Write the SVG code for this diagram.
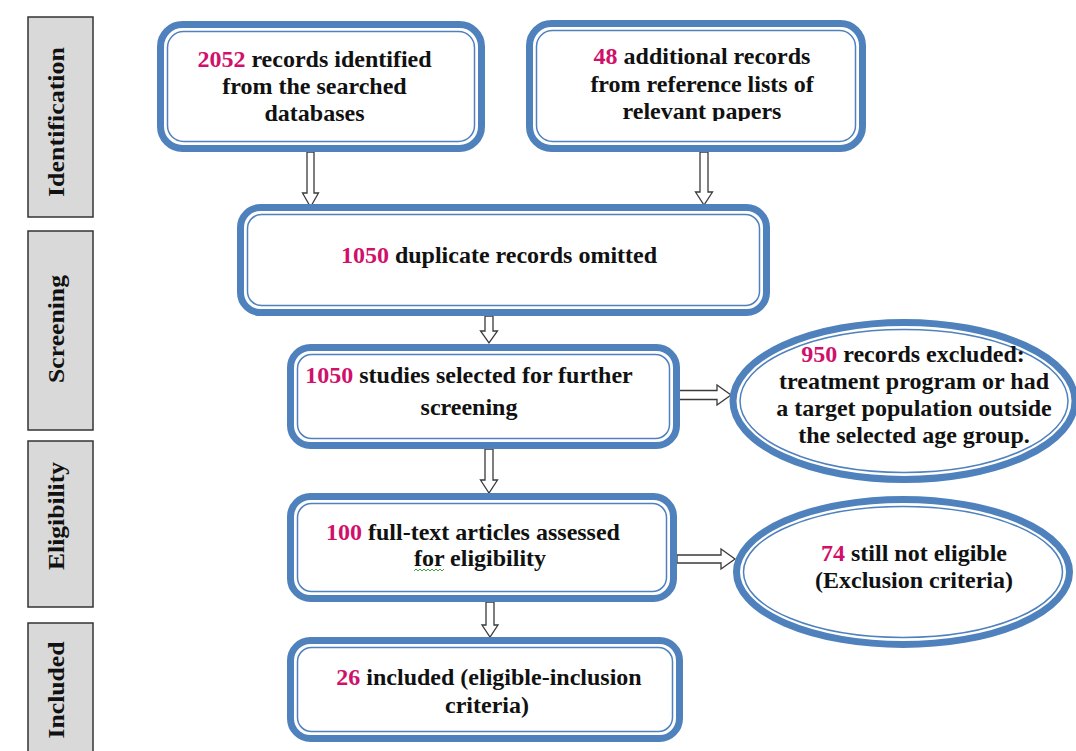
<svg xmlns="http://www.w3.org/2000/svg" width="1076" height="751" viewBox="0 0 1076 751" font-family="Liberation Serif, Tinos, Times New Roman, DejaVu Serif, serif">
<defs>
<style>
.thick{fill:#fff;stroke:#4F81BD;stroke-width:7}
.thin{fill:none;stroke:#4F81BD;stroke-width:1.5}
.side{fill:#D9D9D9;stroke:#333;stroke-width:1.5}
.t{font-family:'Liberation Serif',Tinos,'Times New Roman','DejaVu Serif',serif;font-weight:700;font-size:24px;fill:#111;text-anchor:middle}
.s{font-family:'Liberation Serif',Tinos,'Times New Roman','DejaVu Serif',serif;font-weight:700;font-size:23px;fill:#111;text-anchor:middle}
.n{fill:#D0106A}
.arr{fill:#fff;stroke:#3a3a3a;stroke-width:1.3;stroke-linejoin:miter}
</style>
<clipPath id="clip2"><rect x="526" y="20" width="340" height="101"/></clipPath>
</defs>
<rect width="1076" height="751" fill="#fff"/>

<g id="stage-identification">
<rect class="side" x="28" y="17" width="65" height="200"/>
<text class="s" transform="translate(64,122) rotate(-90)" textLength="150" lengthAdjust="spacingAndGlyphs">Identification</text>
</g>
<g id="stage-screening">
<rect class="side" x="28" y="231" width="65" height="199"/>
<text class="s" transform="translate(64,329) rotate(-90)" textLength="108" lengthAdjust="spacingAndGlyphs">Screening</text>
</g>
<g id="stage-eligibility">
<rect class="side" x="28" y="441" width="65" height="166"/>
<text class="s" transform="translate(64,516) rotate(-90)" textLength="108" lengthAdjust="spacingAndGlyphs">Eligibility</text>
</g>
<g id="stage-included">
<rect class="side" x="28" y="623" width="65" height="140"/>
<text class="s" transform="translate(64,690) rotate(-90)" textLength="97" lengthAdjust="spacingAndGlyphs">Included</text>
</g>

<g id="connectors">
<path class="arr" d="M307,152 H314 V193 H318.5 L310.5,207 L302.5,193 H307 Z"/>
<path class="arr" d="M700,152 H708 V192 H712.5 L704,205 L695.5,192 H700 Z"/>
<path class="arr" d="M485,316 H493 V331 H497.5 L489,343 L480.5,331 H485 Z"/>
<path class="arr" d="M485,449 H493 V480 H497.5 L489,493 L480.5,480 H485 Z"/>
<path class="arr" d="M486,602 H494 V625 H498 L490,637 L482,625 H486 Z"/>
<path class="arr" d="M679,390.5 V399.5 H717 V405 L731,395 L717,385 V390.5 Z"/>
<path class="arr" d="M677,555 V563 H721 V569 L735,559 L721,549 V555 Z"/>
</g>

<g id="node-records-db">
<rect class="thick" x="160.5" y="24.5" width="321" height="124" rx="22"/>
<rect class="thin" x="167.5" y="31.5" width="307" height="110" rx="16"/>
<text class="t" x="314.5" y="67"><tspan class="n">2052</tspan> records identified</text>
<text class="t" x="314.5" y="94">from the searched</text>
<text class="t" x="314.5" y="121">databases</text>
</g>

<g id="node-records-ref">
<rect class="thick" x="529.5" y="23.5" width="333" height="125" rx="22"/>
<rect class="thin" x="536.5" y="30.5" width="319" height="111" rx="16"/>
<text class="t" x="702" y="64"><tspan class="n">48</tspan> additional records</text>
<text class="t" x="702" y="92">from reference lists of</text>
<text class="t" x="702" y="119" clip-path="url(#clip2)">relevant papers</text>
</g>

<g id="node-duplicates">
<rect class="thick" x="240.5" y="207.5" width="526" height="105" rx="20"/>
<rect class="thin" x="247.5" y="214.5" width="512" height="91" rx="14"/>
<text class="t" x="499" y="263"><tspan class="n">1050</tspan> duplicate records omitted</text>
</g>

<g id="node-screened">
<rect class="thick" x="290.5" y="347.5" width="386" height="98" rx="20"/>
<rect class="thin" x="297.5" y="354.5" width="372" height="84" rx="14"/>
<text class="t" x="469" y="383"><tspan class="n">1050</tspan> studies selected for further</text>
<text class="t" x="469" y="415">screening</text>
</g>

<g id="node-excluded-950">
<ellipse class="thick" cx="904" cy="401" rx="171" ry="78.5"/>
<ellipse class="thin" cx="904" cy="401" rx="164" ry="71.5"/>
<text class="t" x="913" y="362"><tspan class="n">950</tspan> records excluded:</text>
<text class="t" x="914" y="389">treatment program or had</text>
<text class="t" x="914" y="416">a target population outside</text>
<text class="t" x="914" y="443">the selected age group.</text>
</g>

<g id="node-fulltext">
<rect class="thick" x="290.5" y="496.5" width="383" height="102" rx="20"/>
<rect class="thin" x="297.5" y="503.5" width="369" height="88" rx="14"/>
<text class="t" x="473" y="540"><tspan class="n">100</tspan> full-text articles assessed</text>
<text class="t" x="480" y="566">for eligibility</text>
<path d="M414,571 l2,-2 l2,2 l2,-2 l2,2 l2,-2 l2,2 l2,-2 l2,2 l2,-2 l2,2 l2,-2 l2,2 l2,-2 l2,2 l2,-2" fill="none" stroke="#3FA33F" stroke-width="1"/>
</g>

<g id="node-excluded-74">
<ellipse class="thick" cx="903" cy="572" rx="166.5" ry="72.5"/>
<ellipse class="thin" cx="903" cy="572" rx="159.5" ry="65.5"/>
<text class="t" x="914" y="561"><tspan class="n">74</tspan> still not eligible</text>
<text class="t" x="914" y="588">(Exclusion criteria)</text>
</g>

<g id="node-included">
<rect class="thick" x="290.5" y="640.5" width="389" height="98" rx="20"/>
<rect class="thin" x="297.5" y="647.5" width="375" height="84" rx="14"/>
<text class="t" x="489" y="685"><tspan class="n">26</tspan> included (eligible-inclusion</text>
<text class="t" x="487" y="713">criteria)</text>
</g>
</svg>
